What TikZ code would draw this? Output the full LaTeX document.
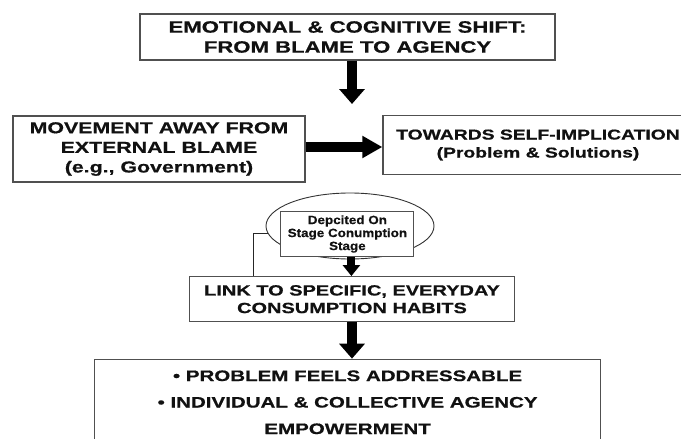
\documentclass[tikz,border=0pt]{standalone}
\usepackage{fontspec}
\setmainfont{Liberation Sans}
\newfontfamily\wideb[FakeStretch=1.35,FakeBold=0.6]{Liberation Sans}
\newfontfamily\smallb[FakeStretch=1.12,FakeBold=0.4]{Liberation Sans}
\usetikzlibrary{arrows.meta,shapes.geometric}
\definecolor{boxline}{HTML}{505050}
\definecolor{inkc}{HTML}{111111}
\tikzset{
  box/.style={draw=boxline, line width=1.3pt, fill=white, inner sep=0pt, align=center, text=inkc},
  fatarrow/.style={draw=black, line width=10pt, -{Triangle[width=25pt,length=15pt]}},
  sidearrow/.style={draw=black, line width=10.5pt, -{Triangle[width=21pt,length=20pt]}},
  smallarrow/.style={draw=black, line width=8pt, -{Triangle[width=17pt,length=11pt]}},
  thinlink/.style={draw=black!85, line width=0.9pt},
}
\begin{document}
\begin{tikzpicture}[x=1pt,y=-1pt]
\clip (0,0) rectangle (681,439);
\fill[white] (0,0) rectangle (681,439);

\node[box, minimum width=415pt, minimum height=46pt,
      font=\wideb\bfseries\fontsize{16.4}{20}\selectfont] (top) at (347.5,37)
  {EMOTIONAL \& COGNITIVE SHIFT:\\FROM BLAME TO AGENCY};

\node[box, minimum width=292pt, minimum height=66pt,
      font=\wideb\bfseries\fontsize{15.8}{19.6}\selectfont] (left) at (159,149)
  {MOVEMENT AWAY FROM\\EXTERNAL BLAME\\(e.g., Government)};

\node[box, minimum width=310pt, minimum height=58.6pt,
      font=\wideb\bfseries\fontsize{14.3}{18}\selectfont] (right) at (538,145)
  {TOWARDS SELF-IMPLICATION\\(Problem \& Solutions)};

\node[ellipse, draw=black!80, line width=0.9pt, minimum width=168pt, minimum height=66pt, inner sep=0pt] (ell) at (350,226) {};

\node[box, line width=1pt, minimum width=133pt, minimum height=45pt,
      font=\smallb\bfseries\fontsize{12}{13}\selectfont] (inner) at (347.4,234)
  {Depcited On\\Stage Conumption\\Stage};

\node[box, minimum width=325pt, minimum height=45pt,
      font=\wideb\bfseries\fontsize{14.8}{17.6}\selectfont] (link) at (352,299.2)
  {LINK TO SPECIFIC, EVERYDAY\\CONSUMPTION HABITS};

\node[box, minimum width=506pt, minimum height=86pt,
      font=\wideb\bfseries\fontsize{15.2}{26.5}\selectfont] (bottom) at (347.6,402.3)
  {\textbullet\ PROBLEM FEELS ADDRESSABLE\\\textbullet\ INDIVIDUAL \& COLLECTIVE AGENCY\\EMPOWERMENT};

\coordinate (a1end) at (352,104);
\draw[fatarrow] (top.south -| a1end) -- (a1end);
\draw[sidearrow] (left.east |- 0,147) -- (right.west |- 0,147);
\draw[smallarrow] ([xshift=4pt]inner.south) -- ([xshift=-0.6pt]link.north);
\draw[fatarrow] (link.south) -- (bottom.north -| link.south);
\draw[thinlink] (ell.185) -| ([xshift=-98.7pt]link.north);
\end{tikzpicture}
\end{document}
